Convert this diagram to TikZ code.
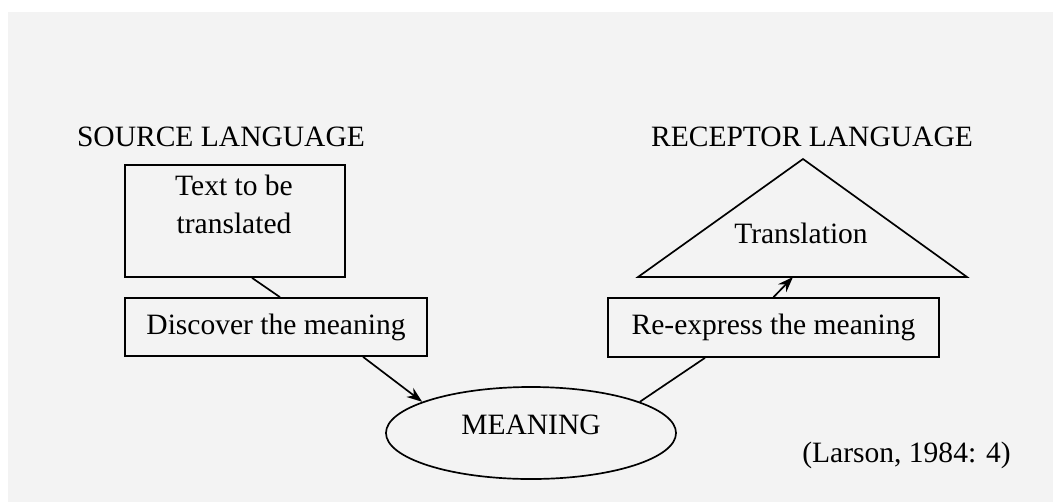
\documentclass[tikz,border=0pt]{standalone}
\usepackage{fontspec}
\setmainfont{Liberation Serif}
\usetikzlibrary{shapes.geometric, arrows.meta}
\definecolor{bggray}{HTML}{F3F3F3}
\tikzstyle{heading} = [font=\fontsize{21}{27}\selectfont, inner sep=0pt]
\tikzstyle{textbox} = [rectangle, draw=black, line width=1.2pt, text centered, font=\fontsize{21}{27}\selectfont]
\tikzstyle{meaningnode} = [ellipse, draw=black, line width=1.2pt, minimum width=7.25cm, minimum height=2.3cm, text depth=0.4cm, font=\fontsize{21}{27}\selectfont]
\tikzstyle{line} = [line width=1.2pt]
\tikzstyle{arrow} = [line width=1.2pt, ->, >={Stealth[length=11pt, width=8pt]}]

\begin{document}
\begin{tikzpicture}[x=0.025cm, y=-0.025cm]

    % Canvas
    \useasboundingbox (0,0) rectangle (1053,502);
    \fill[bggray] (8,12) rectangle (1053,502);

    % Nodes
    \node (srchead) [heading] at (221,137) {SOURCE LANGUAGE};
    \node (tgthead) [heading] at (812,137) {RECEPTOR LANGUAGE};
    \node (srcbox) [textbox, minimum width=5.5cm, minimum height=2.8cm] at (235,221) {};
    \node (srctext) [heading, align=center] at (234,204) {Text to be\\translated};
    \node (discover) [textbox, minimum width=7.55cm, minimum height=1.45cm] at (276,327) {Discover the meaning};
    \node (express) [textbox, minimum width=8.275cm, minimum height=1.475cm] at (773.5,327.5) {Re-express the meaning};
    \node (meaning) [meaningnode] at (531,433) {MEANING};
    \coordinate (apex) at (803,159);
    \coordinate (baseleft) at (638,277);
    \coordinate (baseright) at (967,277);
    \coordinate (basein) at (793,277);
    \draw [line] (baseleft) -- (apex) -- (baseright) -- cycle;
    \node (transl) [heading] at (801,233) {Translation};
    \node (source) [heading] at (906.5,455) {(Larson, 1984: 4)};

    % Connectors
    \draw [line] ([xshift=0.425cm]srcbox.south) -- ([xshift=0.1cm]discover.north);
    \draw [arrow] ([xshift=2.175cm]discover.south) -- (meaning.164);
    \draw [line] (meaning.16) -- ([xshift=-1.7125cm]express.south);
    \draw [arrow] (express.north) -- (basein);
\end{tikzpicture}
\end{document}
